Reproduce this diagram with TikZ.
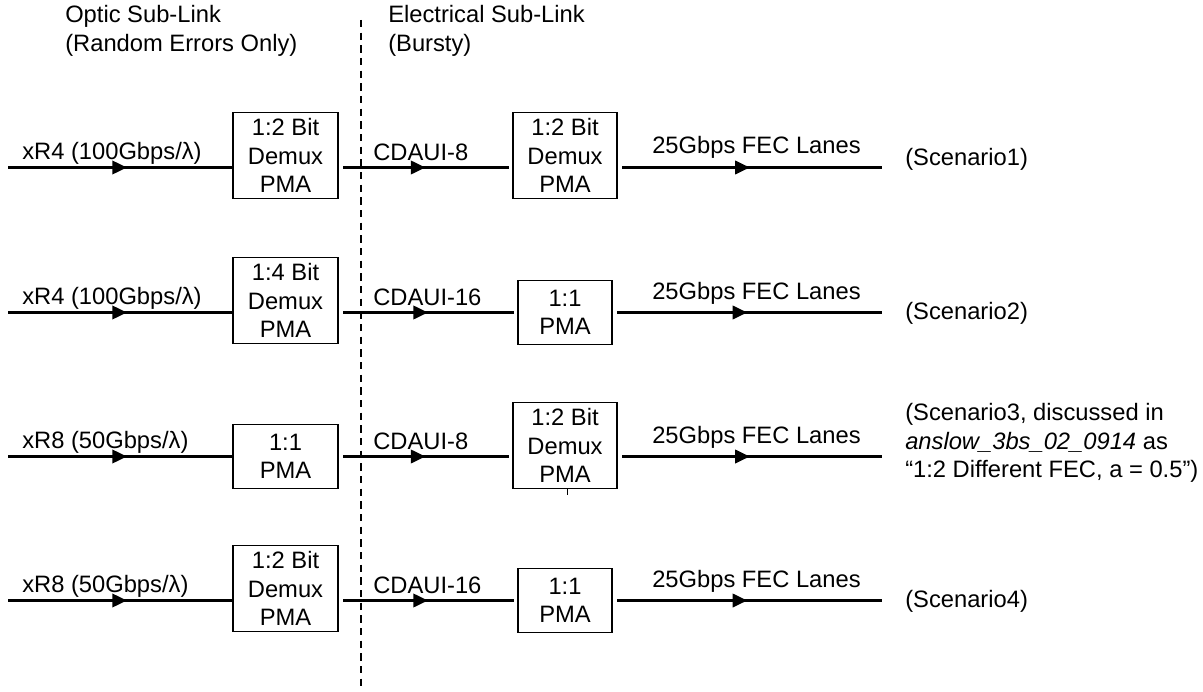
\documentclass[tikz,border=0pt]{standalone}
\usepackage{fontspec}
\setmainfont{Liberation Sans}
\usetikzlibrary{arrows.meta,decorations.markings}
\tikzset{
    blok/.style={
        draw,
        line width=0.8pt,
        align=center,
        inner sep=0pt
    },
    demux/.style={blok, minimum width=78pt, minimum height=65pt},
    demuxbreed/.style={blok, minimum width=78.75pt, minimum height=65pt},
    pmabreed/.style={blok, minimum width=78.75pt, minimum height=48pt},
    pmasmal/.style={blok, minimum width=70.5pt, minimum height=48pt},
    lijn/.style={
        line width=2pt,
        postaction={decorate},
        decoration={markings,
            mark=at position #1 with {\arrow{Triangle[length=11pt,width=10pt]}}}
    },
    lijn/.default=0.5,
    tekst/.style={anchor=west, inner sep=0pt, align=left},
    scheiding/.style={line width=0.8pt, dash pattern=on 5.5pt off 4pt}
}

\begin{document}
\begin{tikzpicture}[
        x=0.75pt, y=-0.75pt,
        every node/.style={font=\fontsize{17.8pt}{21.4pt}\selectfont}
    ]
    \useasboundingbox (0,0) rectangle (1203,692);

    % kopteksten
    \node[tekst] (optisch) at (65,31)
    {Optic Sub-Link\\(Random Errors Only)};
    \node[tekst] (elektrisch) at (388,31)
    {Electrical Sub-Link\\(Bursty)};

    \coordinate (grensboven) at (361,20);
    \coordinate (grensonder) at (361,690);
    \draw[scheiding] (grensboven) -- (grensonder);

    % blokken
    \node[demuxbreed] (a1) at (285.5,155.5) {1:2 Bit\\Demux\\PMA};
    \node[demux] (b1) at (565,155.5) {1:2 Bit\\Demux\\PMA};

    \node[demuxbreed] (a2) at (285.5,300.5) {1:4 Bit\\Demux\\PMA};
    \node[pmasmal] (b2) at (565,312.5) {1:1\\PMA};

    \node[pmabreed] (a3) at (285.5,456.5) {1:1\\PMA};
    \node[demux] (b3) at (565,445.5) {1:2 Bit\\Demux\\PMA};

    \node[demuxbreed] (a4) at (285.5,588.5) {1:2 Bit\\Demux\\PMA};
    \node[pmasmal] (b4) at (565,600.5) {1:1\\PMA};

    % in- en uitgangen
    \coordinate (in1) at (8,167.5);
    \coordinate (uit1) at (882,167.5);
    \coordinate (in2) at (8,312.5);
    \coordinate (uit2) at (882,312.5);
    \coordinate (in3) at (8,456.5);
    \coordinate (uit3) at (882,456.5);
    \coordinate (in4) at (8,600.5);
    \coordinate (uit4) at (882,600.5);

    % verbindingen
    \draw[lijn=0.53] (in1) -- (in1 -| a1.west);
    \draw[lijn, shorten <=3.5pt, shorten >=2.5pt] (in1 -| a1.east) -- (in1 -| b1.west);
    \draw[lijn, shorten <=3.5pt] (in1 -| b1.east) -- (uit1);

    \draw[lijn=0.53] (in2) -- (in2 -| a2.west);
    \draw[lijn, shorten <=3.5pt, shorten >=2.5pt] (in2 -| a2.east) -- (in2 -| b2.west);
    \draw[lijn, shorten <=3.5pt] (in2 -| b2.east) -- (uit2);

    \draw[lijn=0.53] (in3) -- (in3 -| a3.west);
    \draw[lijn, shorten <=3.5pt, shorten >=2.5pt] (in3 -| a3.east) -- (in3 -| b3.west);
    \draw[lijn, shorten <=3.5pt] (in3 -| b3.east) -- (uit3);

    \draw[lijn=0.53] (in4) -- (in4 -| a4.west);
    \draw[lijn, shorten <=3.5pt, shorten >=2.5pt] (in4 -| a4.east) -- (in4 -| b4.west);
    \draw[lijn, shorten <=3.5pt] (in4 -| b4.east) -- (uit4);

    % klein streepje onder b3
    \coordinate (streep3) at ([xshift=1.5pt]b3.south);
    \draw[line width=0.6pt] (streep3) -- ++(0,6);

    % labels
    \node[tekst] (optiek1) at (22,153) {xR4 (100Gbps/λ)};
    \node[tekst] (cdaui1) at (373,152) {CDAUI-8};
    \node[tekst] (fec1) at (652,147) {25Gbps FEC Lanes};
    \node[tekst] (sc1) at (905,159) {(Scenario1)};

    \node[tekst] (optiek2) at (22,298) {xR4 (100Gbps/λ)};
    \node[tekst] (cdaui2) at (373,297) {CDAUI-16};
    \node[tekst] (fec2) at (652,293) {25Gbps FEC Lanes};
    \node[tekst] (sc2) at (905,313) {(Scenario2)};

    \node[tekst] (optiek3) at (22,442) {xR8 (50Gbps/λ)};
    \node[tekst] (cdaui3) at (373,441) {CDAUI-8};
    \node[tekst] (fec3) at (652,437) {25Gbps FEC Lanes};
    \node[tekst] (sc3) at (905,443)
    {(Scenario3, discussed in\\
     \textit{anslow\_3bs\_02\_0914} as\\
     “1:2 Different FEC, a = 0.5”)};

    \node[tekst] (optiek4) at (22,586) {xR8 (50Gbps/λ)};
    \node[tekst] (cdaui4) at (373,585) {CDAUI-16};
    \node[tekst] (fec4) at (652,581) {25Gbps FEC Lanes};
    \node[tekst] (sc4) at (905,601) {(Scenario4)};

\end{tikzpicture}
\end{document}
